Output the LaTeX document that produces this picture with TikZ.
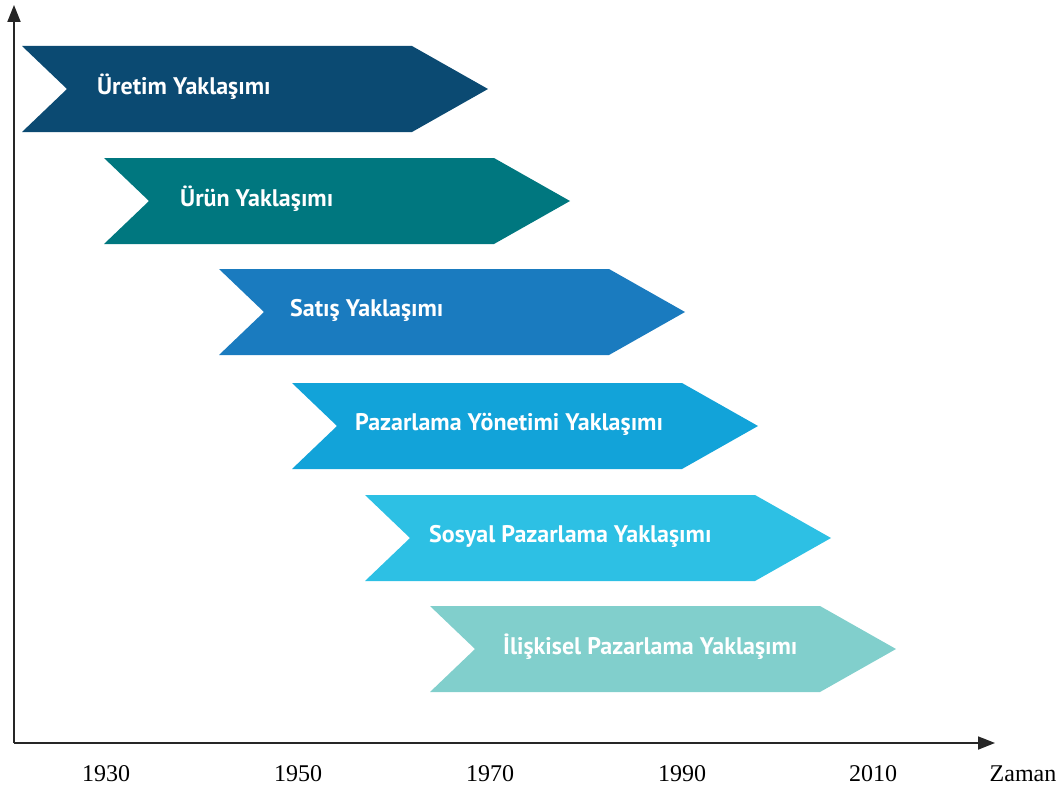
\documentclass[tikz,border=0pt]{standalone}
\usepackage{fontspec}
\setmainfont{Liberation Serif}
\newfontfamily\bandfont{PT Sans}
\usetikzlibrary{arrows.meta,positioning}

\definecolor{uretimcol}{HTML}{0B4A72}
\definecolor{uruncol}{HTML}{00777F}
\definecolor{satiscol}{HTML}{1A7BBF}
\definecolor{yonetimcol}{HTML}{12A3D9}
\definecolor{sosyalcol}{HTML}{2DC0E4}
\definecolor{iliskicol}{HTML}{81CFCC}

\tikzset{
	axisline/.style={line width=1.8pt, draw=black!85, -{Triangle[length=17pt,width=13pt]}},
	yearlabel/.style={font=\fontsize{24}{27}\selectfont, inner sep=0pt},
	bandlabel/.style={font=\bandfont\bfseries\fontsize{24}{27}\selectfont, text=white, anchor=west, inner sep=0pt}
}

\begin{document}
\begin{tikzpicture}[x=1pt,y=-1pt]
	\useasboundingbox (0,0) rectangle (1064,789);

	% bands: left x / top y / text x / colour / name / text
	\foreach \lx/\ty/\tx/\col/\nm/\txt in {
		22/46/97/uretimcol/uretim/{Üretim Yaklaşımı},
		104/158/180/uruncol/urun/{Ürün Yaklaşımı},
		219/269/290/satiscol/satis/{Satış Yaklaşımı},
		292/383/355/yonetimcol/yonetim/{Pazarlama Yönetimi Yaklaşımı},
		365/495/429/sosyalcol/sosyal/{Sosyal Pazarlama Yaklaşımı},
		430/606/503/iliskicol/iliski/{İlişkisel Pazarlama Yaklaşımı}} {
		\fill[\col] (\lx,\ty) -- ++(390,0) -- ++(76,43) -- ++(-76,43)
			-- ++(-390,0) -- ++(45,-43) -- cycle;
		\node[bandlabel] (\nm) at (\tx,\ty+41) {\txt};
	}

	% axes
	\coordinate (O) at (14,743);
	\coordinate (ytop) at (14,5);
	\coordinate (xend) at (995,743);
	\draw[axisline] (O) -- (ytop);
	\draw[axisline] (O) -- (xend);

	% years
	\node[yearlabel] (y1930) at (106,774) {1930};
	\node[yearlabel] (y1950) at (298,774) {1950};
	\node[yearlabel] (y1970) at (490,774) {1970};
	\node[yearlabel] (y1990) at (682,774) {1990};
	\node[yearlabel] (y2010) at (873,774) {2010};
	\node[yearlabel] (zaman) at (1023,774) {Zaman};
\end{tikzpicture}
\end{document}
